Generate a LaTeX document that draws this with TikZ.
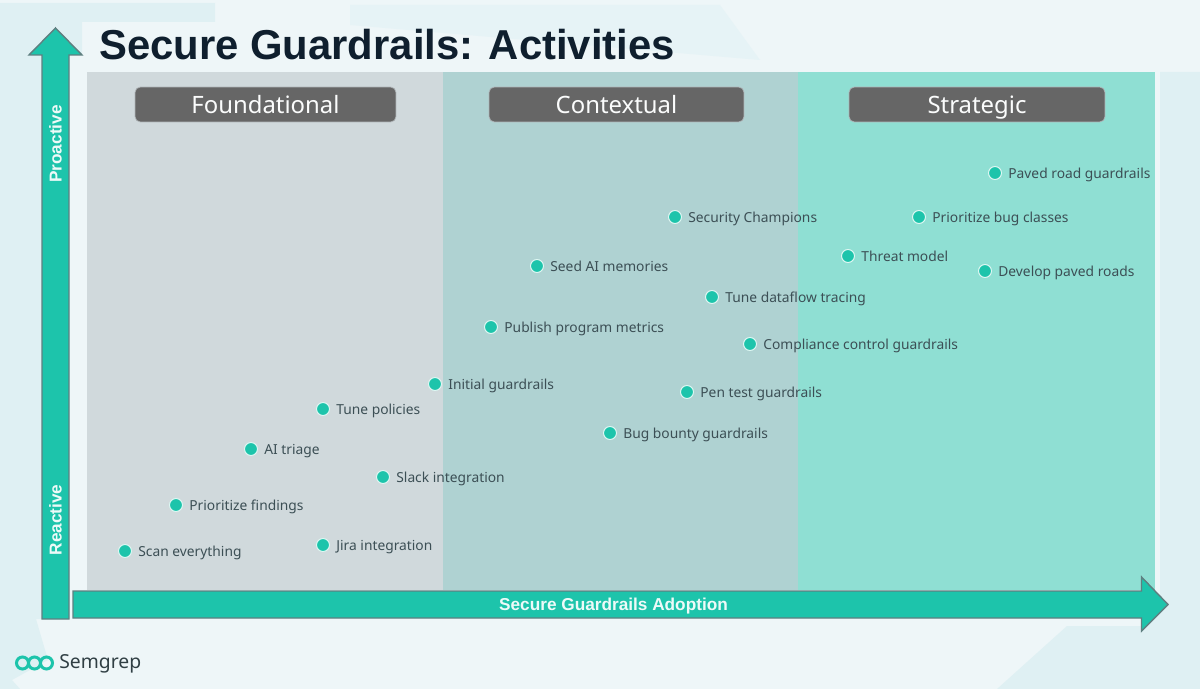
\documentclass[tikz,border=0pt]{standalone}
\usepackage{fontspec}
\setmainfont{Noto Sans}
\newfontfamily\titlefont{Liberation Sans}
\usepackage{xcolor}
\usetikzlibrary{positioning}
\definecolor{pageblue}{HTML}{EEF6F8}
\definecolor{patchblue}{HTML}{DFF0F3}
\definecolor{patchfaint}{HTML}{E6F3F6}
\definecolor{brandteal}{HTML}{1DC4AB}
\definecolor{arrowedge}{HTML}{5F7F80}
\definecolor{inkdark}{HTML}{0F1F2E}
\definecolor{inkgrey}{HTML}{3C4F55}
\definecolor{zonefound}{HTML}{D0D9DC}
\definecolor{zonecontext}{HTML}{AFD2D2}
\definecolor{zonestrat}{HTML}{8FDFD3}
\definecolor{headgrey}{HTML}{666666}

\begin{document}
\begin{tikzpicture}[x=0.02cm, y=-0.02cm,
    zone head/.style={draw=zonefound!70!headgrey, fill=headgrey, rounded corners=3pt, minimum height=0.7cm, inner sep=0pt, text=white!92!zonefound, text height=9.7pt, text depth=0pt, font=\fontsize{13.6}{16}\selectfont},
    act dot/.style={circle, draw=white!85!brandteal, line width=0.6pt, fill=brandteal, minimum size=0.26cm, inner sep=0pt},
    act label/.style={inner sep=0pt, text=inkgrey, text height=7.9pt, text depth=1.9pt, font=\fontsize{7.85}{9}\selectfont},
    big arrow/.style={draw=arrowedge, line width=0.8pt, fill=brandteal, line join=miter},
    axis text/.style={text=white!92!brandteal, inner sep=0pt, font=\fontsize{9.8}{11}\selectfont\titlefont\bfseries}]
    \useasboundingbox (0,0) rectangle (1200,689);

    % page background
    \fill[pageblue] (0,0) rectangle (1200,689);
    \fill[patchblue] (0,3) -- (215,3) -- (215,22) -- (82,22) -- (82,55) -- (69,55) -- (42,619) -- (36,619) -- (48,660) -- (12,680) -- (20,689) -- (0,689) -- cycle;
    \fill[patchfaint] (350,5) -- (720,5) -- (760,60) -- (350,25) -- cycle;
    \fill[patchblue] (1160,72) -- (1200,72) -- (1200,689) -- (997,689) -- (1067,626) -- (1142,626) -- (1160,610) -- cycle;

    % zones
    \fill[zonefound] (87,72) rectangle (443,590);
    \fill[zonecontext] (443,72) rectangle (798,590);
    \fill[zonestrat] (798,72) rectangle (1155,590);

    \node[zone head, minimum width=5.22cm] (found) at (265.5,104.5) {Foundational};
    \node[zone head, minimum width=5.1cm] (context) at (616.5,104.5) {Contextual};
    \node[zone head, minimum width=5.12cm] (strat) at (977,104.5) {Strategic};

    \node[anchor=west, inner sep=0pt, text=inkdark, font=\fontsize{23.8}{28}\selectfont\titlefont\bfseries] (title) at (99,45) {Secure Guardrails: Activities};

    % axes
    \draw[big arrow] (42,619) -- (42,55) -- (29,55) -- (55.5,28) -- (82,55) -- (69,55) -- (69,619) -- cycle;
    \draw[big arrow] (73,591) -- (1141.5,591) -- (1141.5,577) -- (1168,604.5) -- (1141.5,631) -- (1141.5,618) -- (73,618) -- cycle;
    \node[axis text] (adoption) at (613.5,606) {Secure Guardrails Adoption};
    \node[axis text, rotate=90] (proactive) at (55.5,144) {Proactive};
    \node[axis text, rotate=90] (reactive) at (55.5,520) {Reactive};

    % activities
    \node[act dot] (scan) at (125,551) {};
    \node[act label, right=0.12cm of scan] {Scan everything};
    \node[act dot] (findings) at (176,505) {};
    \node[act label, right=0.12cm of findings] {Prioritize findings};
    \node[act dot] (jira) at (323,545) {};
    \node[act label, right=0.12cm of jira] {Jira integration};
    \node[act dot] (slack) at (383,477) {};
    \node[act label, right=0.12cm of slack] {Slack integration};
    \node[act dot] (triage) at (251,449) {};
    \node[act label, right=0.12cm of triage] {AI triage};
    \node[act dot] (policies) at (323,409) {};
    \node[act label, right=0.12cm of policies] {Tune policies};
    \node[act dot] (initial) at (435,384) {};
    \node[act label, right=0.12cm of initial] {Initial guardrails};
    \node[act dot] (metrics) at (491,327) {};
    \node[act label, right=0.12cm of metrics] {Publish program metrics};
    \node[act dot] (memories) at (537,266) {};
    \node[act label, right=0.12cm of memories] {Seed AI memories};
    \node[act dot] (champions) at (675,217) {};
    \node[act label, right=0.12cm of champions] {Security Champions};
    \node[act dot] (dataflow) at (712,297) {};
    \node[act label, right=0.12cm of dataflow] {Tune dataflow tracing};
    \node[act dot] (compliance) at (750,344) {};
    \node[act label, right=0.12cm of compliance] {Compliance control guardrails};
    \node[act dot] (pentest) at (687,392) {};
    \node[act label, right=0.12cm of pentest] {Pen test guardrails};
    \node[act dot] (bounty) at (610,433) {};
    \node[act label, right=0.12cm of bounty] {Bug bounty guardrails};
    \node[act dot] (threat) at (848,256) {};
    \node[act label, right=0.12cm of threat] {Threat model};
    \node[act dot] (bugs) at (919,217) {};
    \node[act label, right=0.12cm of bugs] {Prioritize bug classes};
    \node[act dot] (paved) at (995,173) {};
    \node[act label, right=0.12cm of paved] {Paved road guardrails};
    \node[act dot] (develop) at (985,271) {};
    \node[act label, right=0.12cm of develop] {Develop paved roads};

    % logo
    \draw[brandteal, line width=1.7pt] (22.5,663) circle (6) (34.5,663) circle (6) (46.5,663) circle (6);
    \node[anchor=west, inner sep=0pt, text=inkgrey!80!black, font=\fontsize{11}{13}\selectfont] (logo) at (59,664) {Semgrep};
\end{tikzpicture}
\end{document}
